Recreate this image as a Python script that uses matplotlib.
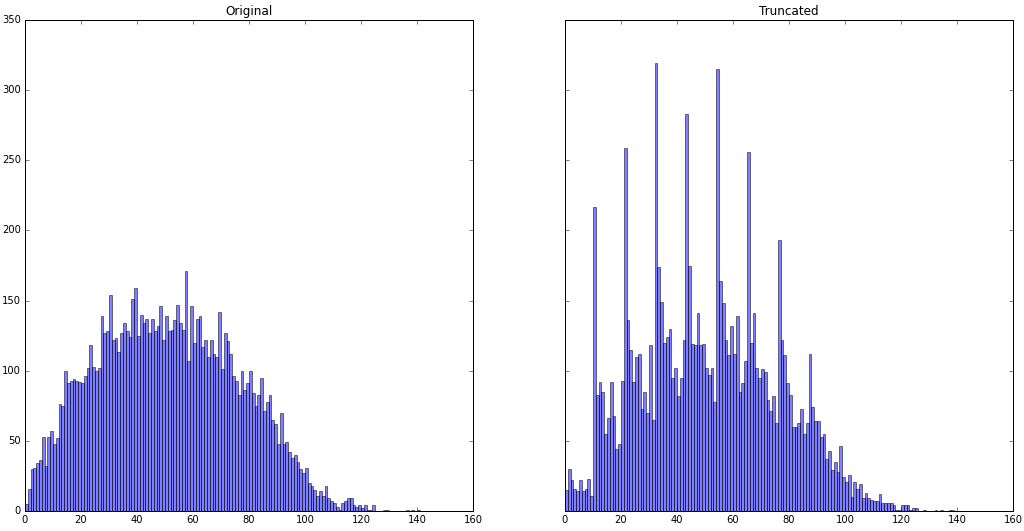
import numpy as np
import matplotlib
matplotlib.use('Agg')
import matplotlib.pyplot as plt

# Histogram counts (bins of width 1 starting at 0)
original_counts = [
    5, 16, 30, 31, 34, 36, 53, 32, 53, 57, 48, 52, 76, 75, 100, 91, 93, 94, 93, 92,
    91, 96, 102, 118, 103, 100, 102, 139, 127, 128, 154, 122, 123, 113, 127, 134, 128, 124, 151, 159,
    125, 140, 134, 137, 127, 137, 128, 132, 146, 122, 139, 128, 129, 136, 147, 134, 129, 171, 107, 146,
    120, 137, 139, 117, 122, 110, 122, 112, 110, 142, 101, 127, 121, 112, 96, 93, 83, 100, 86, 91,
    100, 84, 75, 83, 95, 71, 78, 83, 65, 62, 48, 70, 48, 49, 42, 38, 40, 35, 30, 27,
    31, 20, 18, 15, 11, 14, 11, 18, 9, 7, 6, 3, 1, 6, 7, 9, 9, 4, 3, 4,
    2, 4, 1, 1, 4, 0, 0, 0, 1, 1, 0, 0, 0, 0, 0, 0, 1, 0, 1, 0,
    1,
]

truncated_counts = [
    15, 30, 22, 16, 14, 22, 14, 16, 23, 11, 217, 83, 92, 85, 55, 66, 92, 68, 44, 48,
    93, 259, 136, 115, 92, 110, 112, 73, 85, 70, 118, 65, 319, 174, 149, 120, 124, 130, 95, 102,
    82, 95, 122, 283, 175, 119, 118, 141, 118, 119, 102, 97, 102, 78, 315, 164, 148, 122, 111, 132,
    112, 139, 85, 91, 107, 256, 120, 141, 102, 95, 101, 99, 79, 71, 82, 63, 193, 122, 111, 91,
    83, 60, 60, 63, 73, 55, 63, 112, 74, 64, 64, 53, 55, 37, 43, 29, 35, 28, 46, 24,
    21, 26, 10, 21, 16, 19, 9, 13, 9, 8, 7, 7, 12, 6, 6, 6, 6, 4, 1, 1,
    4, 4, 4, 1, 2, 2, 0, 0, 1, 0, 0, 0, 1, 0, 1, 0, 0, 1, 1,
]

titles = ['Original', 'Truncated']

plt.style.use('classic')
plt.rcParams['font.family'] = 'DejaVu Sans'

fig = plt.figure(figsize=(1024 / 72, 531 / 72), dpi=72, facecolor='white')
ax_orig = fig.add_axes([25 / 1024, 20 / 531, 448 / 1024, 491 / 531])
ax_trunc = fig.add_axes([565 / 1024, 20 / 531, 448 / 1024, 491 / 531], sharey=ax_orig)

for ax, counts, title in zip([ax_orig, ax_trunc], [original_counts, truncated_counts], titles):
    left_edges = np.arange(len(counts))
    ax.bar(left_edges, counts, width=1, align='edge',
           color='b', edgecolor='k', alpha=0.5, linewidth=1)
    ax.set_title(title, fontsize=12)
    ax.set_xlim(0, 160)
    ax.set_ylim(0, 350)
    ax.set_xticks(np.arange(0, 161, 20))
    ax.set_yticks(np.arange(0, 351, 50))
    ax.tick_params(labelsize=10)

plt.setp(ax_trunc.get_yticklabels(), visible=False)

fig.savefig('out.png', dpi=72, facecolor='white')
